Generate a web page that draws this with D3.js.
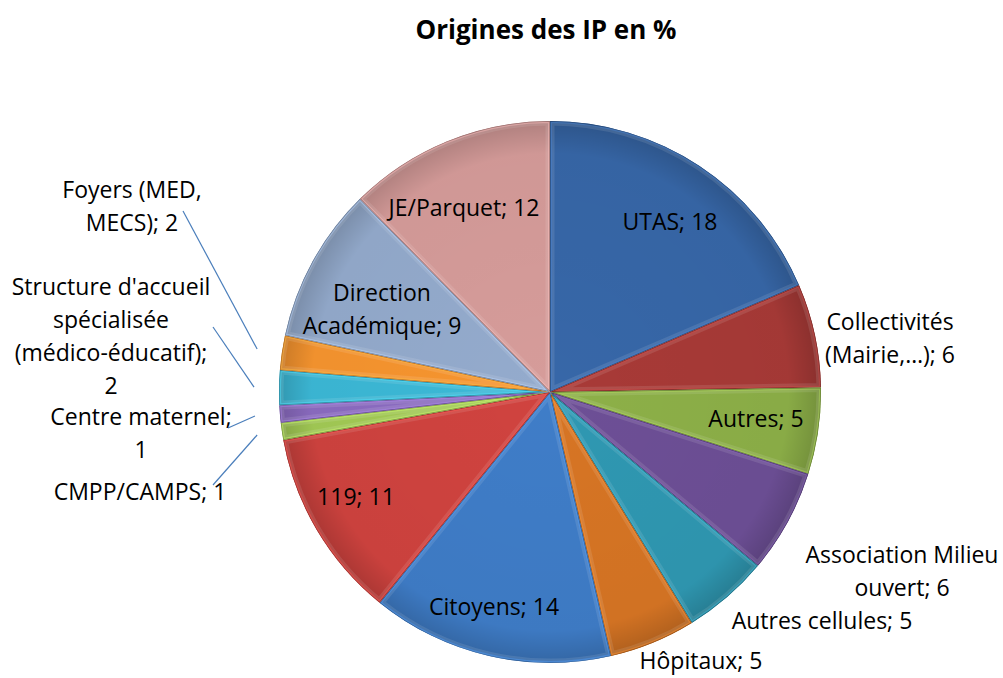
<!DOCTYPE html>
<html>
<head>
<meta charset="utf-8">
<script src="https://cdn.jsdelivr.net/npm/d3@7"></script>
<style>
  body { margin: 0; background: #fff; }
  text { font-family: "Open Sans", "Noto Sans", sans-serif; fill: #000; }
</style>
</head>
<body>
<div id="chart"></div>
<script>
// data (percentages, clockwise from 12 o'clock)
var categories = ["UTAS", "Collectivités (Mairie,…)", "Autres", "Association Milieu ouvert",
    "Autres cellules", "Hôpitaux", "Citoyens", "119", "CMPP/CAMPS", "Centre maternel",
    "Structure d'accueil spécialisée (médico-éducatif)", "Foyers (MED, MECS)",
    "Direction Académique", "JE/Parquet"];
var values = [18, 6, 5, 6, 5, 5, 14, 11, 1, 1, 2, 2, 9, 12];

var palette = ["#3767a8", "#a83a37", "#8db048", "#6d4f96", "#2f98b2", "#d77524", "#3f7dc8",
    "#d0433f", "#a3cb55", "#8c6cc2", "#3cb9d7", "#f7952f", "#94abcd", "#d69c9a"];

// label placement: centre of first line, words per line, optional leader end
var labelLayout = [
    {x: 670, y: 222, brk: [2]},
    {x: 890, y: 322, brk: [1, 2]},
    {x: 756, y: 419, brk: [2]},
    {x: 902, y: 555, brk: [2, 2]},
    {x: 822, y: 621, brk: [3]},
    {x: 701, y: 661, brk: [2]},
    {x: 494, y: 607, brk: [2]},
    {x: 356, y: 497, brk: [2]},
    {x: 140, y: 492, brk: [2], lead: [213, 485]},
    {x: 141, y: 417, brk: [2, 1], lead: [228, 428]},
    {x: 111, y: 287, brk: [2, 1, 1, 1], lead: [213, 327]},
    {x: 132, y: 190, brk: [2, 2], lead: [183, 211]},
    {x: 382, y: 293, brk: [1, 2]},
    {x: 464, y: 208, brk: [2]}
];

var W = 1003, H = 678;
var cx = 550, cy = 392, r = 271;
var lineH = 33;

var data = categories.map((c, i) => ({name: c, value: values[i], i: i}));

var svg = d3.select("#chart").append("svg").attr("width", W).attr("height", H);

svg.append("text")
    .attr("x", 546).attr("y", 29)
    .attr("text-anchor", "middle").attr("dominant-baseline", "central")
    .style("font-weight", "bold").style("font-size", "26px")
    .text("Origines des IP en %");

var pie = d3.pie().sort(null).value(d => d.value);
var arc = d3.arc().innerRadius(0).outerRadius(r);
var leadArc = d3.arc().innerRadius(296).outerRadius(296);

var defs = svg.append("defs");
var shade = defs.append("radialGradient").attr("id", "shade")
    .attr("gradientUnits", "userSpaceOnUse")
    .attr("cx", 0).attr("cy", 0).attr("r", r);
shade.append("stop").attr("offset", "0%").attr("stop-color", "#000").attr("stop-opacity", 0);
shade.append("stop").attr("offset", "88%").attr("stop-color", "#000").attr("stop-opacity", 0.03);
shade.append("stop").attr("offset", "100%").attr("stop-color", "#000").attr("stop-opacity", 0.18);

var arcsData = pie(data);

arcsData.forEach(d => {
    defs.append("clipPath").attr("id", "clip" + d.data.i)
        .append("path").attr("d", arc(d));
});

var g = svg.append("g").attr("transform", `translate(${cx},${cy})`);

var slices = g.selectAll(".slice")
    .data(arcsData)
    .enter().append("g")
    .attr("class", "slice")
    .attr("clip-path", d => `url(#clip${d.data.i})`);

slices.append("path")
    .attr("d", arc)
    .attr("fill", d => palette[d.data.i]);

slices.append("path")
    .attr("d", arc)
    .attr("fill", "url(#shade)");

// bevel: soft light band along slice edges, then a thin dark line
slices.append("path")
    .attr("d", arc)
    .attr("fill", "none")
    .attr("stroke", "#fff").attr("stroke-opacity", 0.1)
    .attr("stroke-width", 9);

slices.append("path")
    .attr("d", arc)
    .attr("fill", "none")
    .attr("stroke", d => d3.color(palette[d.data.i]).brighter(0.6))
    .attr("stroke-opacity", 0.45)
    .attr("stroke-width", 4);

slices.append("path")
    .attr("d", arc)
    .attr("fill", "none")
    .attr("stroke", d => d3.color(palette[d.data.i]).darker(0.9))
    .attr("stroke-width", 1.4);

// leader lines for the small slices
arcsData.filter(d => labelLayout[d.data.i].lead).forEach(d => {
    var p = leadArc.centroid(d);
    var l = labelLayout[d.data.i].lead;
    svg.append("line")
        .attr("x1", l[0]).attr("y1", l[1])
        .attr("x2", cx + p[0]).attr("y2", cy + p[1])
        .attr("stroke", "#4a7ebb").attr("stroke-width", 1.2);
});

// labels
arcsData.forEach(d => {
    var lay = labelLayout[d.data.i];
    var words = (d.data.name + "; " + d.data.value).split(" ");
    var lines = [], k = 0;
    lay.brk.forEach(n => { lines.push(words.slice(k, k + n).join(" ")); k += n; });
    var t = svg.append("text")
        .attr("text-anchor", "middle")
        .style("font-size", "23px");
    lines.forEach((ln, j) => {
        t.append("tspan")
            .attr("x", lay.x)
            .attr("y", lay.y + j * lineH)
            .attr("dy", "0.35em")
            .text(ln);
    });
});
</script>
</body>
</html>
